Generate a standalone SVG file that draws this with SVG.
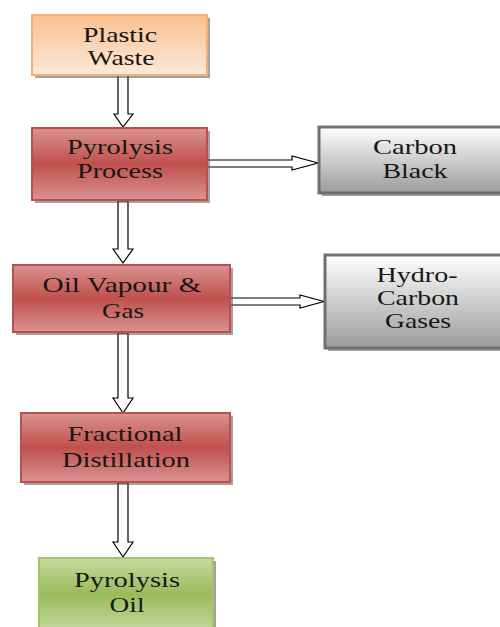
<svg xmlns="http://www.w3.org/2000/svg" width="500" height="627" viewBox="0 0 500 627">
<defs>
<linearGradient id="gPeach" x1="0" y1="0" x2="0" y2="1">
<stop offset="0" stop-color="#f9bf8e"/><stop offset="0.5" stop-color="#fbd4b4"/><stop offset="1" stop-color="#fde9da"/>
</linearGradient>
<linearGradient id="gRed" x1="0" y1="0" x2="0" y2="1">
<stop offset="0" stop-color="#da9391"/><stop offset="0.5" stop-color="#c0504d"/><stop offset="1" stop-color="#da9391"/>
</linearGradient>
<linearGradient id="gGray" x1="0" y1="0" x2="0" y2="1">
<stop offset="0" stop-color="#ffffff"/><stop offset="1" stop-color="#9c9c9c"/>
</linearGradient>
<linearGradient id="gGreen" x1="0" y1="0" x2="0" y2="1">
<stop offset="0" stop-color="#c5d99f"/><stop offset="0.5" stop-color="#9bbb59"/><stop offset="1" stop-color="#c3d69b"/>
</linearGradient>
</defs>
<style>
.shadow{fill:#555;opacity:0.55}
.peach{fill:url(#gPeach);stroke:#f5b07a;stroke-width:2}
.red{fill:url(#gRed);stroke:#b9504c;stroke-width:2}
.gray{fill:url(#gGray);stroke:#707070;stroke-width:3}
.green{fill:url(#gGreen);stroke:#a6c36a;stroke-width:2}
.arrow{fill:#ffffff;stroke:#000000;stroke-width:1.2;stroke-linejoin:miter}
.lbl{font-family:'Liberation Serif','DejaVu Serif',serif;font-size:21px;fill:#161616;text-anchor:middle}
</style>
<rect width="500" height="627" fill="#ffffff"/>
<g id="connectors">
<polygon class="arrow" points="118,75 128,75 128,114 133,114 123,127 114,114 118,114"/>
<polygon class="arrow" points="118,201 128,201 128,249 133,249 123,263 113,249 118,249"/>
<polygon class="arrow" points="118,333 128,333 128,398 133,398 123,413 113,398 118,398"/>
<polygon class="arrow" points="118,483 128,483 128,542 133,542 123,557 113,542 118,542"/>
<polygon class="arrow" points="207,160 292,160 292,156 318,163 292,170 292,167 207,167"/>
<polygon class="arrow" points="230,298 300,298 300,295 324,301.5 300,308 300,305 230,305"/>
</g>
<g id="plastic-waste">
<rect class="shadow" x="35" y="18" width="175" height="60"/>
<rect class="peach" x="32" y="15" width="175" height="60"/>
<text class="lbl" x="120" y="42" textLength="74" lengthAdjust="spacingAndGlyphs">Plastic</text>
<text class="lbl" x="121" y="65" textLength="67" lengthAdjust="spacingAndGlyphs">Waste</text>
</g>
<g id="pyrolysis-process">
<rect class="shadow" x="35" y="131" width="175" height="72"/>
<rect class="red" x="32" y="128" width="175" height="72"/>
<text class="lbl" x="120" y="154" textLength="106" lengthAdjust="spacingAndGlyphs">Pyrolysis</text>
<text class="lbl" x="120" y="178" textLength="86" lengthAdjust="spacingAndGlyphs">Process</text>
</g>
<g id="carbon-black">
<rect class="shadow" x="322" y="130" width="190" height="66"/>
<rect class="gray" x="319" y="127" width="190" height="66"/>
<text class="lbl" x="415" y="154" textLength="84" lengthAdjust="spacingAndGlyphs">Carbon</text>
<text class="lbl" x="415" y="178" textLength="65" lengthAdjust="spacingAndGlyphs">Black</text>
</g>
<g id="oil-vapour-gas">
<rect class="shadow" x="16" y="268" width="217" height="67"/>
<rect class="red" x="13" y="265" width="217" height="67"/>
<text class="lbl" x="122" y="292" textLength="159" lengthAdjust="spacingAndGlyphs">Oil Vapour &amp;</text>
<text class="lbl" x="123" y="318" textLength="42" lengthAdjust="spacingAndGlyphs">Gas</text>
</g>
<g id="hydro-carbon-gases">
<rect class="shadow" x="328" y="258" width="190" height="93"/>
<rect class="gray" x="325" y="255" width="190" height="93"/>
<text class="lbl" x="417" y="282" textLength="81" lengthAdjust="spacingAndGlyphs">Hydro-</text>
<text class="lbl" x="418" y="305" textLength="82" lengthAdjust="spacingAndGlyphs">Carbon</text>
<text class="lbl" x="418" y="328" textLength="66" lengthAdjust="spacingAndGlyphs">Gases</text>
</g>
<g id="fractional-distillation">
<rect class="shadow" x="24" y="416" width="209" height="69"/>
<rect class="red" x="21" y="413" width="209" height="69"/>
<text class="lbl" x="125" y="441" textLength="115" lengthAdjust="spacingAndGlyphs">Fractional</text>
<text class="lbl" x="126" y="467" textLength="128" lengthAdjust="spacingAndGlyphs">Distillation</text>
</g>
<g id="pyrolysis-oil">
<rect class="shadow" x="42" y="561" width="174" height="72"/>
<rect class="green" x="39" y="558" width="174" height="72"/>
<text class="lbl" x="127" y="587" textLength="106" lengthAdjust="spacingAndGlyphs">Pyrolysis</text>
<text class="lbl" x="127" y="612" textLength="35" lengthAdjust="spacingAndGlyphs">Oil</text>
</g>
</svg>
